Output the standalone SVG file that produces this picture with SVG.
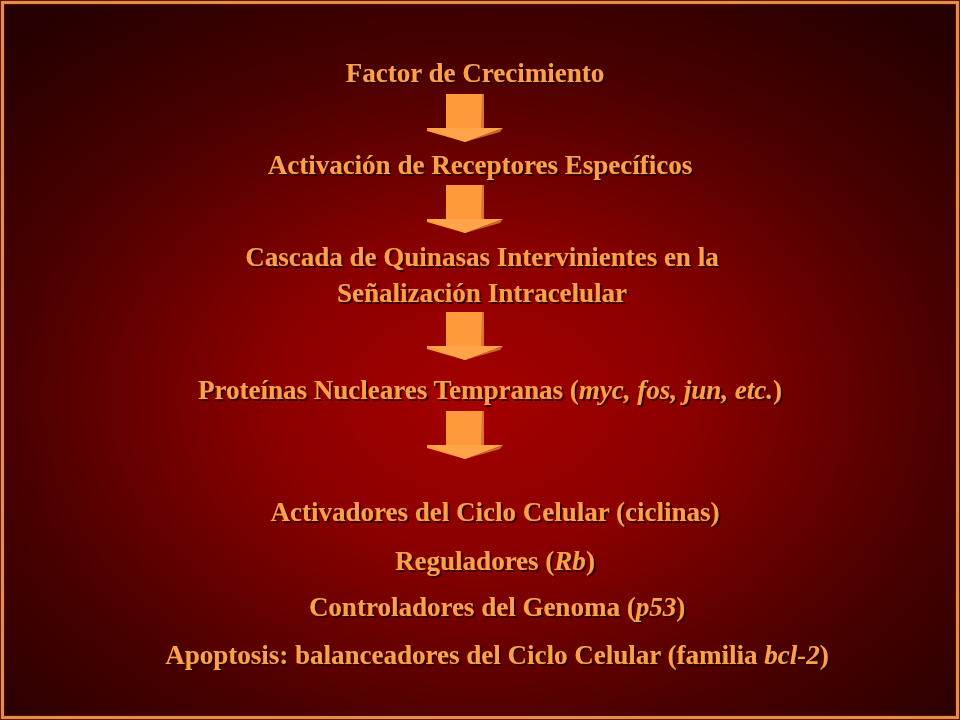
<svg xmlns="http://www.w3.org/2000/svg" width="960" height="720" viewBox="0 0 960 720">
<defs>
<radialGradient id="bg" gradientUnits="userSpaceOnUse" cx="480" cy="400" r="680" gradientTransform="translate(480 400) scale(1 0.72) translate(-480 -400)">
<stop offset="0" stop-color="#a50000"/>
<stop offset="0.3" stop-color="#8c0000"/>
<stop offset="0.7" stop-color="#480000"/>
<stop offset="1" stop-color="#260000"/>
</radialGradient>
<filter id="sh" x="-5%" y="-30%" width="110%" height="160%">
<feOffset in="SourceAlpha" dx="2" dy="2" result="o"/>
<feFlood flood-color="#2a0000" flood-opacity="0.9"/>
<feComposite in2="o" operator="in" result="s"/>
<feMerge><feMergeNode in="s"/><feMergeNode in="SourceGraphic"/></feMerge>
</filter>
<symbol id="arrow" overflow="visible">
<path d="M-18 0 H20 V34 H39 L1 48 L-37 37 L-37 34 H-18 Z" fill="#ff9a3c"/>
<path d="M18 0 H20 V34 H17 Z" fill="#d9762a"/>
<path d="M-37 34 H39 L1 48 Z" fill="#ffa448"/>
<path d="M1 48 L39 34 L36 38 Z" fill="#c86a24"/>
</symbol>
</defs>
<style>
text{font-family:"Liberation Serif","Times New Roman",serif;font-weight:bold;font-size:27px;fill:#ffa04a;text-anchor:middle;filter:url(#sh)}
.i{font-style:italic}
</style>
<rect width="960" height="720" fill="url(#bg)"/>
<rect x="0.5" y="0.5" width="959" height="719" fill="none" stroke="#5a1a00" stroke-width="1"/>
<rect x="2.5" y="2.5" width="955" height="715" fill="none" stroke="#e88c48" stroke-width="3"/>
<rect x="4.5" y="4.5" width="951" height="711" fill="none" stroke="#4a0c00" stroke-width="1"/>
<g id="connectors">
<use href="#arrow" x="464" y="94"/>
<use href="#arrow" x="464" y="185"/>
<use href="#arrow" x="464" y="312"/>
<use href="#arrow" x="464" y="411"/>
</g>
<g id="n1"><text x="475" y="82">Factor de Crecimiento</text></g>
<g id="n2"><text x="480" y="174">Activación de Receptores Específicos</text></g>
<g id="n3"><text x="482" y="266">Cascada de Quinasas Intervinientes en la</text><text x="482" y="302">Señalización Intracelular</text></g>
<g id="n4"><text x="490" y="399">Proteínas Nucleares Tempranas (<tspan class="i">myc, fos, jun, etc.</tspan>)</text></g>
<g id="n5"><text x="495" y="521">Activadores del Ciclo Celular (ciclinas)</text></g>
<g id="n6"><text x="495" y="570">Reguladores (<tspan class="i">Rb</tspan>)</text></g>
<g id="n7"><text x="497" y="616">Controladores del Genoma (<tspan class="i">p53</tspan>)</text></g>
<g id="n8"><text x="497" y="664">Apoptosis: balanceadores del Ciclo Celular (familia <tspan class="i">bcl-2</tspan>)</text></g>
</svg>
